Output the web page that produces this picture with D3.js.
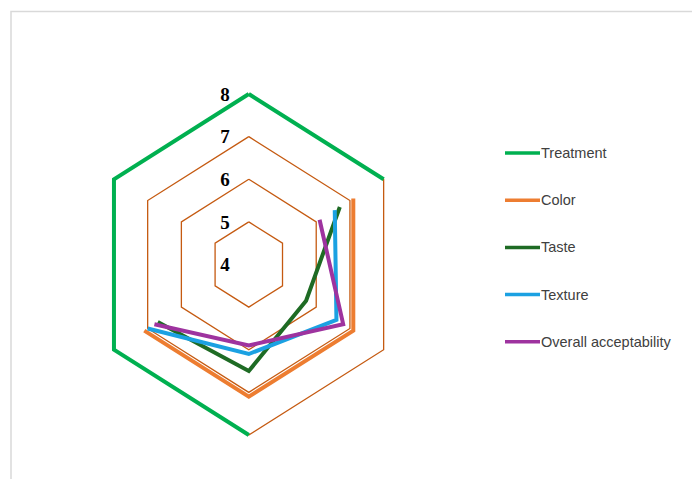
<!DOCTYPE html>
<html>
<head>
<meta charset="utf-8">
<script src="https://cdn.jsdelivr.net/npm/d3@7"></script>
<style>
  body { margin: 0; background: #fff; }
  svg { display: block; }
</style>
</head>
<body>
<div id="chart"></div>
<script>
// six spokes, clockwise from the top; blank cells stay null
var categories = ["1", "2", "3", "4", "5", "6"];
var seriesNames = ["Treatment", "Color", "Taste", "Texture", "Overall acceptability"];
var treatment = [8, 8, null, 8, 8, 8];
var color = [null, 7.1, 7.1, 7.1, 7.1, null];
var taste = [null, 6.7, 5.7, 6.5, 6.7, null];
var texture = [null, 6.55, 6.6, 6.1, 7.0, null];
var overall = [null, 6.1, 6.8, 5.9, 6.8, null];
var tickValues = [4, 5, 6, 7, 8];

var seriesColors = ["#00b050", "#ed7d31", "#1e6b24", "#1ba1e2", "#9e339f"];
var allSeries = [treatment, color, taste, texture, overall];

var svgWidth = 692, svgHeight = 479;
var cx = 248.8, cy = 264.5;
var radiusX = 155.7, radiusY = 170.5; // plot is a little squeezed sideways

var rScale = d3.scaleLinear().domain([4, 8]).range([0, 1]);
var angle = d3.scalePoint().domain(categories).range([0, 2 * Math.PI * 5 / 6]);

function px(cat, v) { return cx + radiusX * rScale(v) * Math.sin(angle(cat)); }
function py(cat, v) { return cy - radiusY * rScale(v) * Math.cos(angle(cat)); }

var svg = d3.select("#chart").append("svg")
  .attr("width", svgWidth)
  .attr("height", svgHeight);

// chart frame (only top and left edges show)
svg.append("path")
  .attr("d", "M11,479 V11.5 H692")
  .attr("fill", "none")
  .attr("stroke", "#d9d9d9")
  .attr("stroke-width", 1.5);

// hexagon gridlines
var gridLine = d3.line().x(function(d) { return d[0]; }).y(function(d) { return d[1]; });
tickValues.slice(1).forEach(function(t) {
  var pts = categories.map(function(c) { return [px(c, t), py(c, t)]; });
  pts.push(pts[0]);
  svg.append("path")
    .attr("d", gridLine(pts))
    .attr("fill", "none")
    .attr("stroke", "#c55a11")
    .attr("stroke-width", 1.3);
});

// series lines (closed loop, gaps where null)
var radarLine = d3.line()
  .defined(function(d) { return d.v != null; })
  .x(function(d) { return px(d.c, d.v); })
  .y(function(d) { return py(d.c, d.v); });

allSeries.forEach(function(vals, i) {
  var pts = categories.map(function(c, j) { return { c: c, v: vals[j] }; });
  pts.push(pts[0]);
  svg.append("path")
    .attr("d", radarLine(pts))
    .attr("fill", "none")
    .attr("stroke", seriesColors[i])
    .attr("stroke-width", 4)
    .attr("stroke-linejoin", "miter");
});

// value labels along the top spoke
svg.selectAll(".tick-label")
  .data(tickValues)
  .enter().append("text")
  .attr("class", "tick-label")
  .attr("x", cx - 19)
  .attr("y", function(d) { return py(categories[0], d); })
  .attr("dy", "0.35em")
  .attr("text-anchor", "end")
  .style("font-family", "'Liberation Serif', 'Times New Roman', serif")
  .style("font-weight", "bold")
  .style("font-size", "19px")
  .style("fill", "#000")
  .text(function(d) { return d; });

// legend
var legend = svg.append("g").attr("transform", "translate(505,153)");
seriesNames.forEach(function(name, i) {
  var g = legend.append("g").attr("transform", "translate(0," + (i * 47.2) + ")");
  g.append("line")
    .attr("x1", 0).attr("x2", 35)
    .attr("stroke", seriesColors[i])
    .attr("stroke-width", 3.5);
  g.append("text")
    .attr("x", 36)
    .attr("dy", "0.35em")
    .style("font-family", "'Liberation Sans', Arial, sans-serif")
    .style("font-size", "14.5px")
    .style("fill", "#404040")
    .text(name);
});
</script>
</body>
</html>
